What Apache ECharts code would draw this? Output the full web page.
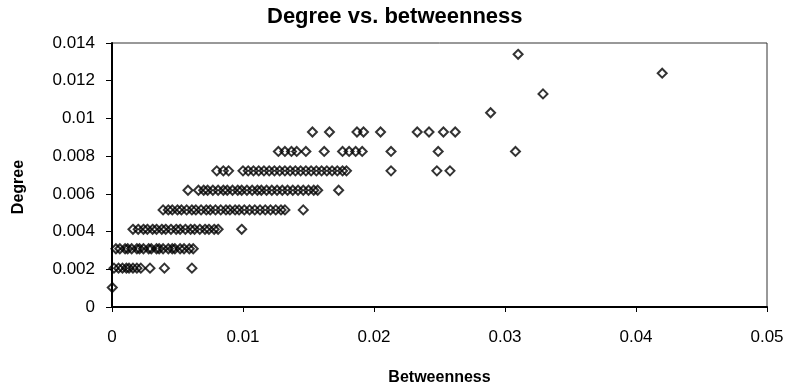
<!DOCTYPE html>
<html>
<head>
<meta charset="utf-8">
<script src="https://cdn.jsdelivr.net/npm/echarts@6/dist/echarts.min.js"></script>
<style>
  html, body { margin: 0; padding: 0; background: #fff; }
  #chart { width: 787px; height: 389px; }
</style>
</head>
<body>
<div id="chart"></div>
<script>
// degree levels (y), one row of points per level
var degreeLevels = [0.00103, 0.00206, 0.00309, 0.00412, 0.00515, 0.00619, 0.00722,
                    0.00825, 0.00928, 0.0103, 0.0113, 0.0124, 0.0134];

// betweenness (x) of the points in each row
var row1 = [0.00002];
var row2 = [0.00015, 0.0005, 0.0008, 0.0011, 0.0013, 0.0016, 0.0019, 0.0022, 0.0029, 0.0040, 0.0061];
var row3 = [0.0003, 0.0006, 0.0010, 0.0012, 0.0015, 0.0019, 0.0021, 0.0024, 0.0028, 0.0030,
            0.0034, 0.0036, 0.0039, 0.0043, 0.0046, 0.0048, 0.0052, 0.0055, 0.0059, 0.0062];
var row4 = [0.0016, 0.0020, 0.0024, 0.0027, 0.0031, 0.0034, 0.0038, 0.0041, 0.0045, 0.0049,
            0.0052, 0.0056, 0.0060, 0.0063, 0.0067, 0.0071, 0.0074, 0.0078, 0.0081, 0.0099];
var row5 = [0.0039, 0.0043, 0.0046, 0.0050, 0.0053, 0.0057, 0.0061, 0.0064, 0.0068, 0.0072,
            0.0075, 0.0079, 0.0083, 0.0087, 0.0090, 0.0094, 0.0097, 0.0101, 0.0105, 0.0109,
            0.0113, 0.0117, 0.0121, 0.0125, 0.0129, 0.0132, 0.0146];
var row6 = [0.0058, 0.0066, 0.0070, 0.0073, 0.0077, 0.0081, 0.0085, 0.0088, 0.0092, 0.0096,
            0.0099, 0.0103, 0.0107, 0.0111, 0.0114, 0.0118, 0.0122, 0.0126, 0.0130, 0.0134,
            0.0138, 0.0142, 0.0146, 0.0150, 0.0154, 0.0157, 0.0173];
var row7 = [0.0080, 0.0085, 0.0089, 0.0100, 0.0104, 0.0108, 0.0112, 0.0116, 0.0120, 0.0124,
            0.0128, 0.0132, 0.0136, 0.0140, 0.0144, 0.0148, 0.0152, 0.0156, 0.0160, 0.0164,
            0.0168, 0.0172, 0.0176, 0.0179, 0.0213, 0.0248, 0.0258];
var row8 = [0.0127, 0.0132, 0.0137, 0.0141, 0.0148, 0.0162, 0.0176, 0.0181, 0.0186, 0.0191,
            0.0213, 0.0249, 0.0308];
var row9 = [0.0153, 0.0166, 0.0187, 0.0192, 0.0205, 0.0233, 0.0242, 0.0253, 0.0262];
var row10 = [0.0289];
var row11 = [0.0329];
var row12 = [0.0420];
var row13 = [0.0310];

var rows = [row1, row2, row3, row4, row5, row6, row7, row8, row9, row10, row11, row12, row13];

var points = [];
rows.forEach(function (row, i) {
  row.forEach(function (x) {
    points.push([x, degreeLevels[i]]);
  });
});

var font = 'Liberation Sans, Arial, sans-serif';

var option = {
  animation: false,
  backgroundColor: '#fff',
  title: {
    text: 'Degree vs. betweenness',
    left: 267,
    top: 6,
    padding: 0,
    textStyle: { fontFamily: font, fontSize: 22, fontWeight: 'bold', color: '#000' }
  },
  grid: {
    left: 112,
    right: 20,
    top: 43,
    bottom: 82,
    outerBoundsMode: 'none',
    containLabel: false,
    show: true,
    borderColor: '#333',
    borderWidth: 1
  },
  xAxis: {
    type: 'value',
    min: 0,
    max: 0.05,
    interval: 0.01,
    name: 'Betweenness',
    nameLocation: 'middle',
    nameGap: 63,
    nameTextStyle: { fontFamily: font, fontSize: 16, fontWeight: 'bold', color: '#000' },
    axisLine: { show: true, lineStyle: { color: '#000', width: 2 } },
    axisTick: { show: true, inside: false, length: 5, lineStyle: { color: '#000', width: 1 } },
    axisLabel: { fontFamily: font, fontSize: 17, color: '#000', margin: 22 },
    splitLine: { show: false }
  },
  yAxis: {
    type: 'value',
    min: 0,
    max: 0.014,
    interval: 0.002,
    name: 'Degree',
    nameLocation: 'middle',
    nameGap: 85,
    nameTextStyle: { fontFamily: font, fontSize: 16, fontWeight: 'bold', color: '#000', padding: [0, 24, 0, 0] },
    axisLine: { show: true, lineStyle: { color: '#000', width: 2 } },
    axisTick: { show: true, inside: false, length: 6, lineStyle: { color: '#000', width: 1 } },
    axisLabel: { fontFamily: font, fontSize: 17, color: '#000', margin: 17 },
    splitLine: { show: false }
  },
  series: [{
    type: 'scatter',
    symbol: 'diamond',
    symbolSize: [9, 9],
    data: points,
    itemStyle: {
      color: 'rgba(255,255,255,0)',
      borderColor: '#000',
      borderWidth: 2
    }
  }]
};

var chart = echarts.init(document.getElementById('chart'));
chart.setOption(option);
</script>
</body>
</html>
